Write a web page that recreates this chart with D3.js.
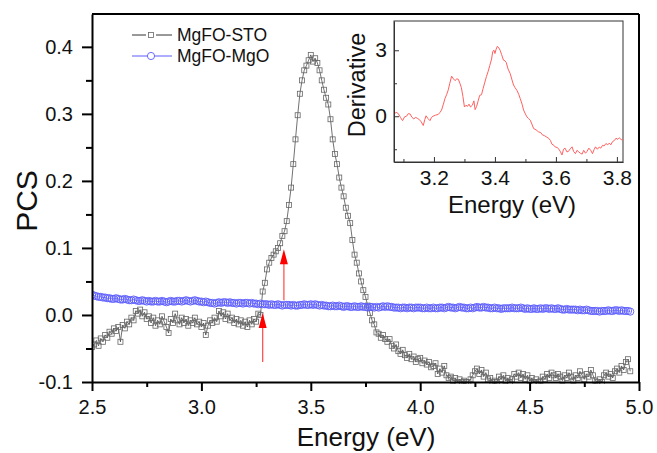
<!DOCTYPE html>
<html><head><meta charset="utf-8">
<script src="https://cdn.jsdelivr.net/npm/d3@7"></script>
<style>body{margin:0;background:#fff}svg{display:block}text{font-family:"Liberation Sans",Arial,sans-serif}</style>
</head><body><svg id="c" width="657" height="453"></svg>
<script>
// ---------- data ----------
const seriesNames = ["MgFO-STO", "MgFO-MgO"];
const stoStart = 2.50, stoStep = 0.01;
const stoValues = [
-0.048,-0.044,-0.038,-0.046,-0.035,-0.040,-0.030,-0.034,-0.025,-0.028,
-0.020,-0.024,-0.018,-0.040,-0.015,-0.020,-0.010,-0.014,-0.004,-0.008,
0.006,0.002,0.008,-0.002,0.004,-0.006,-0.002,-0.012,-0.004,-0.016,
-0.008,-0.014,-0.002,-0.010,-0.018,-0.027,-0.006,-0.012,0.002,-0.008,
-0.014,-0.004,-0.012,-0.006,-0.016,-0.008,-0.012,-0.004,-0.014,-0.010,
-0.018,-0.012,-0.030,-0.016,-0.008,-0.012,-0.004,-0.010,0.006,-0.002,
0.004,-0.006,0.002,-0.008,-0.004,-0.012,-0.006,-0.014,-0.008,-0.016,
-0.010,-0.018,-0.008,-0.014,-0.006,-0.010,0.002,0.000,0.035,0.048,
0.068,0.078,0.085,0.090,0.095,0.100,0.107,0.118,0.125,0.140,
0.164,0.190,0.225,0.262,0.298,0.330,0.350,0.365,0.372,0.380,
0.388,0.378,0.383,0.376,0.365,0.350,0.336,0.324,0.314,0.292,
0.262,0.240,0.225,0.205,0.190,0.177,0.160,0.148,0.137,0.112,
0.090,0.078,0.062,0.050,0.037,0.027,0.014,0.003,-0.008,-0.014,
-0.026,-0.028,-0.034,-0.030,-0.036,-0.040,-0.036,-0.046,-0.050,-0.044,
-0.054,-0.058,-0.052,-0.060,-0.064,-0.058,-0.066,-0.062,-0.070,-0.066,
-0.064,-0.072,-0.068,-0.074,-0.070,-0.078,-0.076,-0.072,-0.088,-0.080,
-0.086,-0.076,-0.090,-0.094,-0.092,-0.098,-0.094,-0.100,-0.096,-0.100,
-0.098,-0.100,-0.100,-0.096,-0.090,-0.084,-0.080,-0.088,-0.082,-0.092,
-0.086,-0.096,-0.094,-0.100,-0.098,-0.100,-0.092,-0.096,-0.090,-0.098,
-0.094,-0.100,-0.096,-0.088,-0.092,-0.086,-0.094,-0.088,-0.096,-0.090,
-0.098,-0.094,-0.100,-0.096,-0.100,-0.098,-0.092,-0.096,-0.088,-0.094,
-0.086,-0.090,-0.094,-0.088,-0.092,-0.098,-0.090,-0.094,-0.086,-0.092,
-0.098,-0.090,-0.094,-0.084,-0.090,-0.096,-0.088,-0.092,-0.082,-0.090,
-0.098,-0.100,-0.096,-0.100,-0.090,-0.086,-0.092,-0.088,-0.094,-0.084,
-0.080,-0.086,-0.076,-0.082,-0.070,-0.066,-0.084
];
const mgoStart = 2.50, mgoStep = 0.01;
const mgoValues = [
0.030,0.029,0.028,0.027,0.027,0.026,0.026,0.025,0.025,0.024,
0.024,0.025,0.024,0.023,0.023,0.024,0.023,0.022,0.022,0.023,
0.022,0.021,0.021,0.022,0.021,0.020,0.021,0.020,0.020,0.021,
0.020,0.020,0.021,0.020,0.019,0.020,0.021,0.020,0.020,0.021,
0.021,0.020,0.021,0.022,0.021,0.020,0.021,0.022,0.021,0.020,
0.020,0.019,0.020,0.019,0.018,0.018,0.017,0.018,0.019,0.018,
0.019,0.019,0.018,0.019,0.018,0.018,0.017,0.018,0.018,0.017,
0.018,0.018,0.017,0.018,0.017,0.017,0.016,0.017,0.016,0.016,
0.016,0.015,0.016,0.015,0.015,0.016,0.015,0.014,0.015,0.015,
0.015,0.014,0.015,0.014,0.014,0.015,0.015,0.016,0.015,0.015,
0.016,0.015,0.016,0.015,0.014,0.015,0.014,0.014,0.013,0.013,
0.014,0.013,0.013,0.014,0.013,0.012,0.013,0.013,0.012,0.012,
0.013,0.012,0.012,0.013,0.012,0.012,0.011,0.012,0.012,0.011,
0.012,0.011,0.012,0.013,0.012,0.013,0.012,0.012,0.011,0.011,
0.011,0.010,0.011,0.011,0.010,0.011,0.011,0.010,0.011,0.011,
0.011,0.010,0.010,0.011,0.010,0.010,0.011,0.010,0.010,0.011,
0.011,0.010,0.011,0.012,0.011,0.011,0.010,0.011,0.012,0.011,
0.011,0.010,0.010,0.011,0.010,0.011,0.012,0.011,0.011,0.012,
0.011,0.011,0.010,0.010,0.011,0.010,0.010,0.009,0.010,0.010,
0.010,0.010,0.011,0.010,0.010,0.010,0.011,0.010,0.009,0.010,
0.009,0.009,0.010,0.009,0.009,0.010,0.009,0.010,0.010,0.009,
0.010,0.009,0.009,0.010,0.009,0.008,0.008,0.009,0.008,0.008,
0.008,0.008,0.007,0.008,0.007,0.007,0.008,0.007,0.006,0.006,
0.006,0.006,0.005,0.006,0.006,0.006,0.007,0.006,0.006,0.007,
0.007,0.006,0.007,0.006,0.006,0.006,0.005
];
const xTicks = [2.5, 3.0, 3.5, 4.0, 4.5, 5.0];
const yTicks = [-0.1, 0.0, 0.1, 0.2, 0.3, 0.4];
// red arrows: [energy, tail value, tip value]
const arrowX = [3.28, 3.377];
const arrowFrom = [-0.07, 0.022];
const arrowTo = [0.003, 0.098];
// inset: derivative
const derivEnergy = [3.070,3.076,3.083,3.090,3.097,3.104,3.110,3.116,3.122,3.128,3.134,3.140,3.146,3.152,3.158,3.165,3.170,3.174,3.180,3.187,3.192,3.197,3.205,3.214,3.220,3.225,3.231,3.236,3.242,3.247,3.252,3.258,3.264,3.269,3.275,3.280,3.285,3.290,3.295,3.300,3.305,3.310,3.315,3.320,3.326,3.331,3.335,3.340,3.345,3.350,3.356,3.361,3.367,3.372,3.378,3.383,3.389,3.393,3.397,3.400,3.404,3.408,3.413,3.417,3.422,3.428,3.433,3.437,3.443,3.450,3.456,3.461,3.466,3.472,3.478,3.483,3.489,3.494,3.500,3.505,3.510,3.516,3.521,3.527,3.535,3.543,3.550,3.556,3.562,3.570,3.576,3.582,3.587,3.593,3.598,3.604,3.610,3.615,3.620,3.625,3.630,3.636,3.641,3.647,3.653,3.658,3.664,3.669,3.675,3.680,3.686,3.691,3.697,3.702,3.708,3.714,3.720,3.725,3.730,3.736,3.742,3.747,3.753,3.758,3.764,3.770,3.775,3.780,3.786,3.792,3.797,3.803,3.808,3.814,3.820];
const derivValue = [0.10,0.18,0.12,-0.05,-0.20,-0.02,0.00,0.12,0.10,-0.05,-0.12,-0.05,-0.10,-0.15,-0.25,-0.42,-0.15,0.02,-0.10,-0.20,-0.05,0.00,0.05,0.08,0.18,0.28,0.55,0.80,1.00,1.20,1.50,1.82,1.70,1.62,1.70,1.68,1.50,1.30,0.90,0.42,0.50,0.45,0.55,0.42,0.50,0.70,0.30,0.45,0.70,0.95,0.98,1.25,1.55,1.80,2.05,2.30,2.60,2.95,3.00,2.85,3.05,3.18,3.10,3.00,2.80,2.55,2.52,2.45,2.15,1.94,1.65,1.42,1.30,1.18,1.00,0.80,0.55,0.28,0.10,-0.03,-0.10,-0.18,-0.35,-0.56,-0.62,-0.71,-0.74,-0.85,-0.88,-0.95,-1.00,-1.10,-1.27,-1.32,-1.40,-1.42,-1.50,-1.62,-1.76,-1.50,-1.45,-1.62,-1.60,-1.48,-1.39,-1.60,-1.70,-1.55,-1.62,-1.68,-1.72,-1.55,-1.68,-1.60,-1.45,-1.55,-1.70,-1.52,-1.39,-1.50,-1.40,-1.45,-1.32,-1.35,-1.24,-1.30,-1.22,-1.30,-1.15,-1.10,-1.00,-1.05,-0.98,-1.06,-1.08];
const insetXTicks = [3.2, 3.4, 3.6, 3.8];
const insetYTicks = [0, 3];

// ---------- chart ----------
const fmt1 = d => d.toFixed(1);
const svg = d3.select("#c");
const L = 92, R = 639, T = 14, B = 382;
const x = d3.scaleLinear().domain([2.5, 5.0]).range([L, R]);
const y = d3.scaleLinear().domain([-0.1, 0.449]).range([B, T]);

const sto = stoValues.map((v, i) => [stoStart + i * stoStep, v]);
const mgo = mgoValues.map((v, i) => [mgoStart + i * mgoStep, v]);

svg.append("defs").append("clipPath").attr("id", "clipMain")
  .append("rect").attr("x", L).attr("y", T - 2).attr("width", R - L + 2).attr("height", B - T + 4);

const plot = svg.append("g").attr("clip-path", "url(#clipMain)");
const line = d3.line().x(d => x(d[0])).y(d => y(d[1]));

// STO series
plot.append("path").datum(sto).attr("d", line).attr("fill", "none").attr("stroke", "#333").attr("stroke-width", 0.7);
plot.append("g").selectAll("rect").data(sto).join("rect")
  .attr("x", d => x(d[0]) - 2.5).attr("y", d => y(d[1]) - 2.5)
  .attr("width", 5).attr("height", 5)
  .attr("fill", "none").attr("stroke", "#666").attr("stroke-width", 0.8);

// MgO series
plot.append("path").datum(mgo).attr("d", line).attr("fill", "none").attr("stroke", "#5c5cff").attr("stroke-width", 0.8);
plot.append("g").selectAll("circle").data(mgo).join("circle")
  .attr("cx", d => x(d[0])).attr("cy", d => y(d[1])).attr("r", 3.6)
  .attr("fill", "none").attr("stroke", "#5c5cff").attr("stroke-width", 0.9);

// arrows
arrowX.forEach((ax, i) => {
  const px = x(ax), y0 = y(arrowFrom[i]), y1 = y(arrowTo[i]);
  svg.append("line").attr("x1", px).attr("x2", px).attr("y1", y0).attr("y2", y1 + 12)
    .attr("stroke", "#ff5555").attr("stroke-width", 1.3);
  svg.append("path").attr("d", `M${px},${y1} L${px - 4},${y1 + 15} L${px + 4},${y1 + 15} Z`).attr("fill", "#ff0000");
});

// axes
const xAxis = svg.append("g").attr("transform", `translate(0,${B})`)
  .call(d3.axisBottom(x).tickValues(xTicks).tickFormat(fmt1).tickSize(9).tickSizeOuter(0));
svg.append("g").attr("transform", `translate(0,${B})`)
  .call(d3.axisBottom(x).tickValues([2.75, 3.25, 3.75, 4.25, 4.75]).tickFormat("").tickSize(5).tickSizeOuter(0))
  .select(".domain").remove();
const yAxis = svg.append("g").attr("transform", `translate(${L},0)`)
  .call(d3.axisLeft(y).tickValues(yTicks).tickFormat(fmt1).tickSize(10).tickSizeOuter(0));
svg.append("g").attr("transform", `translate(${L},0)`)
  .call(d3.axisLeft(y).tickValues([-0.05, 0.05, 0.15, 0.25, 0.35]).tickFormat("").tickSize(6).tickSizeOuter(0))
  .select(".domain").remove();
svg.selectAll(".tick line").attr("stroke", "#000").attr("stroke-width", 2);
svg.selectAll(".domain").attr("stroke", "#000").attr("stroke-width", 2);
xAxis.selectAll("text").attr("font-size", 20).attr("fill", "#111").attr("y", 18).attr("font-family", "Liberation Sans, Arial, sans-serif");
yAxis.selectAll("text").attr("font-size", 20).attr("fill", "#111").attr("x", -19).attr("font-family", "Liberation Sans, Arial, sans-serif");
// frame top/right
svg.append("line").attr("x1", L).attr("x2", R).attr("y1", T).attr("y2", T).attr("stroke", "#000").attr("stroke-width", 2);
svg.append("line").attr("x1", R).attr("x2", R).attr("y1", T).attr("y2", B).attr("stroke", "#000").attr("stroke-width", 2);

// axis titles
svg.append("text").attr("x", 366).attr("y", 446).attr("text-anchor", "middle")
  .attr("font-size", 26).attr("fill", "#111").text("Energy (eV)");
svg.append("text").attr("transform", `translate(37,201) rotate(-90)`).attr("text-anchor", "middle")
  .attr("font-size", 30).attr("fill", "#111").text("PCS");

// legend
const lg = svg.append("g");
lg.append("line").attr("x1", 132).attr("x2", 146).attr("y1", 35).attr("y2", 35).attr("stroke", "#333").attr("stroke-width", 1);
lg.append("line").attr("x1", 156).attr("x2", 172).attr("y1", 35).attr("y2", 35).attr("stroke", "#333").attr("stroke-width", 1);
lg.append("rect").attr("x", 148.5).attr("y", 32.5).attr("width", 5).attr("height", 5).attr("fill", "none").attr("stroke", "#666").attr("stroke-width", 0.8);
lg.append("line").attr("x1", 132).attr("x2", 172).attr("y1", 56).attr("y2", 56).attr("stroke", "#5c5cff").attr("stroke-width", 1);
lg.append("circle").attr("cx", 151).attr("cy", 56).attr("r", 3.6).attr("fill", "#fff").attr("stroke", "#5c5cff").attr("stroke-width", 0.9);
lg.append("text").attr("x", 177).attr("y", 41).attr("font-size", 17.5).attr("fill", "#111").text(seriesNames[0]);
lg.append("text").attr("x", 177).attr("y", 62).attr("font-size", 17.5).attr("fill", "#111").text(seriesNames[1]);

// ---------- inset ----------
const iL = 394, iR = 623, iT = 21, iB = 162;
const ix = d3.scaleLinear().domain([3.069, 3.82]).range([iL, iR]);
const iy = d3.scaleLinear().domain([-2.08, 4.33]).range([iB, iT]);
const ins = svg.append("g");
ins.append("rect").attr("x", iL).attr("y", iT).attr("width", iR - iL).attr("height", iB - iT)
  .attr("fill", "#fff").attr("stroke", "#333").attr("stroke-width", 1);
const deriv = derivEnergy.map((e, i) => [e, derivValue[i]]);
ins.append("path").datum(deriv)
  .attr("d", d3.line().x(d => ix(d[0])).y(d => iy(d[1])))
  .attr("fill", "none").attr("stroke", "#ff6060").attr("stroke-width", 1);
const ixa = ins.append("g").attr("transform", `translate(0,${iB})`)
  .call(d3.axisBottom(ix).tickValues(insetXTicks).tickFormat(fmt1).tickSize(-5).tickPadding(10).tickSizeOuter(0));
ins.append("g").attr("transform", `translate(0,${iB})`)
  .call(d3.axisBottom(ix).tickValues([3.1, 3.3, 3.5, 3.7]).tickFormat("").tickSize(-3).tickSizeOuter(0))
  .select(".domain").remove();
const iya = ins.append("g").attr("transform", `translate(${iL},0)`)
  .call(d3.axisLeft(iy).tickValues(insetYTicks).tickFormat(d => String(d)).tickSize(-5).tickPadding(7).tickSizeOuter(0));
ins.append("g").attr("transform", `translate(${iL},0)`)
  .call(d3.axisLeft(iy).tickValues([-1.5, 1.5]).tickFormat("").tickSize(-3).tickSizeOuter(0))
  .select(".domain").remove();
ins.selectAll(".domain").attr("stroke", "#333").attr("stroke-width", 1);
ins.selectAll(".tick line").attr("stroke", "#333").attr("stroke-width", 1);
ixa.selectAll("text").attr("font-size", 21).attr("fill", "#111").attr("y", 8).attr("dy", "0.71em").attr("font-family", "Liberation Sans, Arial, sans-serif");
iya.selectAll("text").attr("font-size", 21).attr("fill", "#111").attr("font-family", "Liberation Sans, Arial, sans-serif");
ins.append("text").attr("x", 512).attr("y", 213).attr("text-anchor", "middle")
  .attr("font-size", 24).attr("fill", "#111").text("Energy (eV)");
ins.append("text").attr("transform", `translate(365,85) rotate(-90)`).attr("text-anchor", "middle")
  .attr("font-size", 23.5).attr("fill", "#111").text("Derivative");
</script></body></html>
